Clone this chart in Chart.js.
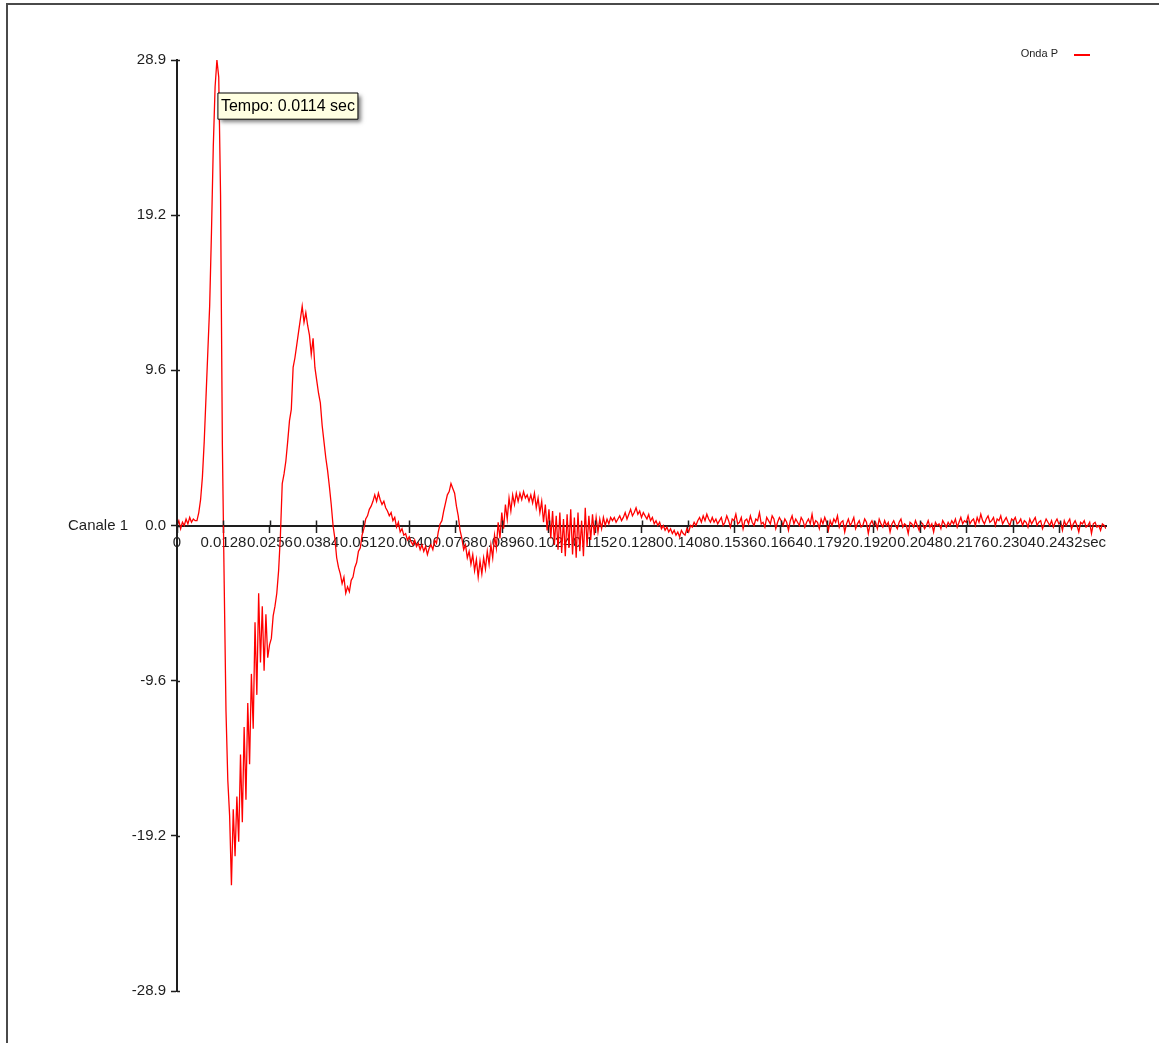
<!DOCTYPE html>
<html>
<head>
<meta charset="utf-8">
<title>Onda P - Canale 1</title>
<script src="https://cdn.jsdelivr.net/npm/chart.js@4.4.1/dist/chart.umd.min.js"></script>
<style>
  html, body { margin: 0; padding: 0; background: #ffffff; }
  #wrap { width: 1159px; height: 1043px; position: relative; }
  canvas { display: block; }
</style>
</head>
<body>
<div id="wrap"><canvas id="c" width="1159" height="1043"></canvas></div>
<script>
// ---------- data ----------
const seriesLabel = 'Onda P';
const axisTitle = 'Canale 1';
const xUnit = 'sec';
const tooltipTime = 0.0114;       // time shown in the hover box
const peakIndex = 22;             // sample the hover box is attached to
const sampleInterval = 0.0005;    // seconds between samples
const xMax = 0.256;
const yLimit = 28.86;

// Canale 1 samples (one every 0.0005 s, starting at t = 0)
const canale1 = [
  0.0, 0.3, -0.2, 0.2, 0.0, 0.4, 0.1, 0.5, 0.2, 0.4,
  0.3, 0.3, 0.8, 1.6, 3.0, 5.2, 8.0, 10.8, 13.6, 18.2,
  23.5, 27.2, 28.86, 27.8, 20.5, 5.0, -3.5, -11.5, -15.8, -18.0,
  -22.3, -17.6, -20.5, -16.8, -19.6, -14.2, -18.4, -12.5, -17.0, -11.0,
  -14.8, -9.2, -12.6, -6.0, -10.5, -4.2, -8.5, -5.0, -9.0, -5.5,
  -8.2, -7.4, -7.0, -5.6, -5.0, -4.2, -2.8, -0.6, 2.6, 3.2,
  4.0, 5.2, 6.5, 7.2, 9.8, 10.4, 11.2, 12.0, 12.8, 13.6,
  12.6, 13.2, 12.4, 11.8, 10.6, 11.6, 9.8, 9.0, 8.2, 7.6,
  6.2, 5.2, 4.2, 3.4, 2.4, 1.3, 0.0, -0.8, -2.0, -2.6,
  -3.0, -3.6, -3.2, -4.2, -3.8, -4.1, -3.4, -3.2, -2.6, -2.3,
  -1.6, -1.4, -0.6, -0.2, 0.4, 0.6, 1.0, 1.2, 1.5, 1.9,
  1.5, 2.0, 1.6, 1.3, 1.5, 1.1, 0.9, 0.6, 0.8, 0.3,
  0.5, -0.1, 0.2, -0.4, -0.2, -0.6, -0.5, -0.9, -0.7, -1.0,
  -1.2, -0.9, -1.3, -1.1, -1.5, -1.2, -1.6, -1.3, -1.8, -1.4,
  -1.2, -1.5, -0.9, -1.1, -0.4, 0.1, 0.3, 0.9, 1.4, 1.9,
  2.1, 2.6, 2.3, 2.0, 1.2, 0.6, -0.3, -0.8, -1.5, -1.2,
  -2.0, -1.6, -2.4, -1.8, -2.8, -2.1, -3.2, -2.2, -3.0, -2.0,
  -2.7, -1.6, -2.4, -1.2, -2.0, -0.6, -1.4, 0.2, -0.8, 0.8,
  -0.2, 1.3, 0.4, 1.7, 0.9, 1.9, 1.3, 2.0, 1.5, 2.0,
  1.6, 2.1, 1.7, 1.9, 1.5, 1.9, 1.4, 2.0, 1.1, 1.7,
  0.8, 1.5, 0.2, 1.3, -0.3, 1.0, -0.8, 0.9, -1.2, 0.6,
  -1.5, 0.8, -1.7, 0.4, -1.9, 0.7, -1.4, 1.0, -1.8, 0.5,
  -2.0, 0.8, -1.6, 0.3, -1.9, 1.1, -1.3, 0.6, -0.9, 0.7,
  -0.6, 0.5, -0.4, 0.4, -0.2, 0.5, 0.0, 0.4, 0.1, 0.5,
  0.3, 0.5, 0.2, 0.4, 0.6, 0.3, 0.5, 0.8, 0.4, 0.7,
  1.0, 0.6, 0.8, 1.1, 0.7, 0.9, 0.5, 0.8, 0.6, 0.4,
  0.7, 0.3, 0.5, 0.1, 0.3, 0.0, 0.2, -0.2, 0.0, -0.3,
  -0.1, -0.4, -0.2, -0.5, -0.3, -0.6, -0.4, -0.7, -0.3, -0.5,
  -0.6, -0.2, -0.4, 0.0, -0.1, 0.2, 0.0, 0.3, 0.5, 0.2,
  0.6, 0.3, 0.7, 0.4, 0.2, 0.5, 0.2, 0.4, 0.1, 0.3,
  0.5, 0.0, 0.2, 0.6, 0.3, -0.1, 0.4, 0.3, 0.7, 0.1,
  0.2, 0.5, -0.2, 0.3, 0.4, 0.1, 0.6, 0.2, 0.0, 0.4,
  0.3, 0.8, 0.1, 0.2, -0.1, 0.5, 0.3, 0.1, 0.6, 0.4,
  -0.2, 0.2, 0.5, 0.3, 0.0, 0.4, 0.2, -0.3, 0.3, 0.6,
  0.1, 0.4, 0.2, 0.0, 0.5, 0.3, -0.1, 0.2, 0.4, 0.1,
  0.7, 0.0, 0.3, 0.2, -0.2, 0.4, 0.1, 0.5, 0.2, -0.3,
  0.3, 0.0, 0.4, 0.2, 0.6, -0.1, 0.2, 0.3, -0.4, 0.1,
  0.4, 0.0, 0.2, 0.5, -0.2, 0.1, 0.3, -0.1, 0.0, 0.4,
  0.2, -0.5, 0.1, 0.3, 0.0, 0.2, -0.2, 0.4, 0.1, -0.1,
  0.3, 0.0, 0.2, -0.4, 0.1, 0.3, 0.0, -0.2, 0.2, 0.4,
  -0.1, 0.1, 0.0, -0.5, 0.2, 0.1, -0.1, 0.3, 0.0, -0.3,
  0.2, 0.1, -0.2, 0.0, 0.3, -0.1, 0.1, -0.4, 0.2, 0.0,
  0.1, -0.2, 0.3, 0.1, -0.1, 0.2, 0.0, 0.3, 0.1, 0.4,
  -0.1, 0.2, 0.5, 0.1, 0.3, 0.2, 0.6, 0.1, 0.3, 0.4,
  0.0, 0.5, 0.2, 0.7, 0.3, 0.1, 0.4, 0.6, 0.2, 0.3,
  0.5, 0.0, 0.4, 0.3, 0.6, 0.1, 0.3, 0.5, 0.2, 0.0,
  0.4, 0.3, 0.5, 0.1, 0.2, 0.4, 0.0, 0.3, 0.2, -0.1,
  0.4, 0.1, 0.3, 0.5, 0.0, 0.2, 0.3, -0.2, 0.1, 0.4,
  0.2, 0.0, 0.3, -0.1, 0.2, 0.4, 0.1, 0.2, -0.3, 0.3,
  0.0, 0.2, 0.4, -0.2, 0.1, 0.3, 0.0, -0.4, 0.2, 0.1,
  0.3, -0.1, 0.0, 0.2, -0.5, 0.1, 0.2, -0.1, 0.0, -0.3,
  0.1, 0.0, -0.2
];

// axis ticks
const xTickValues = [0, 0.0128, 0.0256, 0.0384, 0.0512, 0.064, 0.0768, 0.0896, 0.1024, 0.1152,
                     0.128, 0.1408, 0.1536, 0.1664, 0.1792, 0.192, 0.2048, 0.2176, 0.2304, 0.2432];
const xTickLabels = ['0', '0.0128', '0.0256', '0.0384', '0.0512', '0.0640', '0.0768', '0.0896', '0.1024', '0.1152',
                     '0.1280', '0.1408', '0.1536', '0.1664', '0.1792', '0.1920', '0.2048', '0.2176', '0.2304', '0.2432'];
const yTickValues = [-28.86, -19.24, -9.62, 0, 9.62, 19.24, 28.86];
const yTickLabels = ['-28.9', '-19.2', '-9.6', '0.0', '9.6', '19.2', '28.9'];

// ---------- styling ----------
const lineColor = '#ff0000';
const axisColor = '#1e1e1e';
const textColor = '#1e1e1e';
const fontFamily = '"Liberation Sans", Arial, sans-serif';

const points = canale1.map((v, i) => ({ x: i * sampleInterval, y: v }));

Chart.Tooltip.positioners.peakBox = function (items) {
  if (!items.length) return false;
  const el = items[0].element;
  return { x: el.x + 1, y: el.y + 33 };
};

const decorPlugin = {
  id: 'decor',
  beforeDraw(chart) {
    const { ctx, width, height } = chart;
    ctx.save();
    ctx.fillStyle = '#ffffff';
    ctx.fillRect(0, 0, width, height);
    ctx.strokeStyle = '#4a4a4a';
    ctx.lineWidth = 2;
    ctx.strokeRect(7, 4, width + 20, height + 20);
    ctx.restore();
  },
  afterDatasetsDraw(chart) {
    const { ctx } = chart;
    const xs = chart.scales.x, ys = chart.scales.y;
    const y0 = ys.getPixelForValue(0);
    const x0 = xs.getPixelForValue(0);
    ctx.save();
    ctx.strokeStyle = axisColor;
    ctx.lineWidth = 1.5;
    ctx.beginPath();
    xs.ticks.forEach(t => {
      const px = Math.round(xs.getPixelForValue(t.value)) + 0.5;
      ctx.moveTo(px, y0 - 5); ctx.lineTo(px, y0);
    });
    ys.ticks.forEach(t => {
      const py = Math.round(ys.getPixelForValue(t.value)) + 0.5;
      ctx.moveTo(x0, py); ctx.lineTo(x0 + 3, py);
    });
    ctx.stroke();

    ctx.fillStyle = textColor;
    ctx.font = '15px ' + fontFamily;
    ctx.textBaseline = 'middle';
    ctx.textAlign = 'right';
    ctx.fillText(axisTitle, x0 - 49, y0);
    ctx.textBaseline = 'top';
    ctx.fillText(xUnit, xs.right, y0 + 10);

    // legend
    const ds = chart.data.datasets[0];
    ctx.font = '11px ' + fontFamily;
    ctx.textBaseline = 'middle';
    ctx.textAlign = 'right';
    ctx.fillText(ds.label, chart.chartArea.right - 48, chart.chartArea.top - 6);
    ctx.strokeStyle = ds.borderColor;
    ctx.lineWidth = 2;
    ctx.beginPath();
    ctx.moveTo(chart.chartArea.right - 32, chart.chartArea.top - 5);
    ctx.lineTo(chart.chartArea.right - 16, chart.chartArea.top - 5);
    ctx.stroke();
    ctx.restore();
  },
  beforeTooltipDraw(chart, args) {
    const tt = args.tooltip;
    if (!tt || !tt.opacity) return;
    const { ctx } = chart;
    ctx.save();
    ctx.shadowColor = 'rgba(0,0,0,0.5)';
    ctx.shadowBlur = 4;
    ctx.shadowOffsetX = 3;
    ctx.shadowOffsetY = 3;
    ctx.fillStyle = '#ffffe1';
    ctx.fillRect(tt.x, tt.y, tt.width, tt.height);
    ctx.restore();
  }
};

const chart = new Chart(document.getElementById('c'), {
  type: 'line',
  data: {
    datasets: [{
      label: seriesLabel,
      data: points,
      borderColor: lineColor,
      backgroundColor: lineColor,
      borderWidth: 1.3,
      pointRadius: 0,
      pointHoverRadius: 0,
      tension: 0,
      fill: false
    }]
  },
  options: {
    responsive: false,
    devicePixelRatio: 1,
    animation: false,
    events: [],
    parsing: true,
    layout: { padding: { left: 0, right: 53, top: 60, bottom: 52 } },
    scales: {
      x: {
        type: 'linear',
        position: { y: 0 },
        min: 0,
        max: xMax,
        afterBuildTicks(scale) { scale.ticks = xTickValues.map(v => ({ value: v })); },
        ticks: {
          autoSkip: false,
          maxRotation: 0,
          minRotation: 0,
          padding: 2,
          color: textColor,
          font: { family: fontFamily, size: 15 },
          callback: (v, i) => xTickLabels[i]
        },
        grid: { drawOnChartArea: false, drawTicks: true, tickLength: 6, tickWidth: 1.5, color: axisColor },
        border: { display: true, color: axisColor, width: 2 }
      },
      y: {
        type: 'linear',
        position: 'left',
        min: -yLimit,
        max: yLimit,
        afterBuildTicks(scale) { scale.ticks = yTickValues.map(v => ({ value: v })); },
        afterFit(scale) { scale.width = 177; },
        ticks: {
          autoSkip: false,
          padding: 5,
          color: textColor,
          font: { family: fontFamily, size: 15 },
          callback: (v, i) => yTickLabels[i]
        },
        grid: { drawOnChartArea: false, drawTicks: true, tickLength: 6, tickWidth: 1.5, color: axisColor },
        border: { display: true, color: axisColor, width: 2 }
      }
    },
    plugins: {
      legend: { display: false },
      title: { display: false },
      tooltip: {
        enabled: true,
        position: 'peakBox',
        xAlign: 'left',
        yAlign: 'top',
        caretSize: 0,
        caretPadding: 0,
        cornerRadius: 0,
        backgroundColor: '#ffffe1',
        borderColor: '#000000',
        borderWidth: 1,
        bodyColor: '#000000',
        bodyFont: { family: fontFamily, size: 16 },
        padding: { left: 3, right: 3, top: 4, bottom: 3 },
        displayColors: false,
        callbacks: {
          title: () => '',
          label: () => 'Tempo: ' + tooltipTime.toFixed(4) + ' ' + xUnit
        }
      }
    }
  },
  plugins: [decorPlugin]
});

chart.tooltip.setActiveElements(
  [{ datasetIndex: 0, index: peakIndex }],
  { x: chart.scales.x.getPixelForValue(tooltipTime), y: chart.scales.y.getPixelForValue(canale1[peakIndex]) }
);
chart.update();
</script>
</body>
</html>
